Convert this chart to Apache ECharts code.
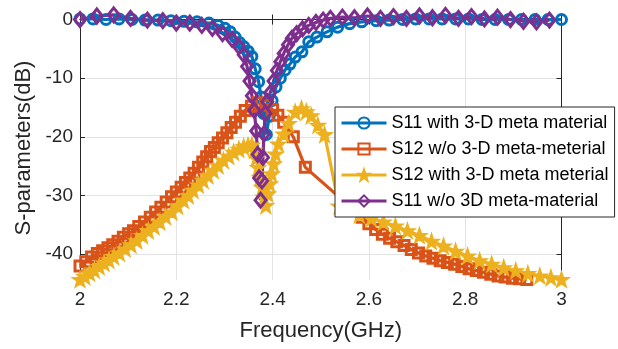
<!DOCTYPE html>
<html>
<head>
<meta charset="utf-8">
<script src="https://cdn.jsdelivr.net/npm/echarts@6/dist/echarts.min.js"></script>
<style>
  html, body { margin: 0; padding: 0; background: #fff; }
  #chart { width: 618px; height: 349px; }
</style>
</head>
<body>
<div id="chart"></div>
<script>
// tick labels
const xTicks = [2, 2.2, 2.4, 2.6, 2.8, 3];
const yTicks = [0, -10, -20, -30, -40];

// S11 with 3-D meta material (circles)
const s11WithFreq = [2.000, 2.027, 2.054, 2.081, 2.108, 2.135, 2.162, 2.189, 2.216, 2.243, 2.268, 2.287, 2.301, 2.312, 2.322, 2.331, 2.340, 2.349, 2.357, 2.364, 2.371, 2.376, 2.381, 2.387, 2.393, 2.399, 2.407, 2.416, 2.426, 2.436, 2.447, 2.461, 2.475, 2.492, 2.513, 2.535, 2.560, 2.585, 2.615, 2.642, 2.670, 2.697, 2.725, 2.752, 2.780, 2.807, 2.835, 2.862, 2.890, 2.917, 2.945, 2.972, 3.000];
const s11WithDb = [0.1, 0.1, 0.0, 0.1, 0.0, -0.1, -0.1, -0.2, -0.3, -0.4, -0.6, -1.0, -1.5, -2.1, -3.0, -3.9, -4.6, -5.4, -6.3, -8.4, -10.6, -13.2, -16.0, -19.6, -16.5, -13.8, -11.5, -10.0, -8.6, -7.6, -6.4, -5.5, -3.8, -3.0, -2.1, -1.3, -0.7, -0.4, -0.2, -0.1, 0.0, 0.1, 0.1, 0.1, 0.1, 0.1, 0.0, 0.0, 0.0, 0.0, 0.0, 0.0, 0.0];

// S12 w/o 3-D meta-meterial (squares)
const s12WoFreq = [2.000, 2.012, 2.024, 2.036, 2.047, 2.058, 2.068, 2.079, 2.090, 2.101, 2.111, 2.122, 2.134, 2.146, 2.157, 2.168, 2.179, 2.190, 2.200, 2.210, 2.219, 2.228, 2.237, 2.246, 2.255, 2.263, 2.271, 2.279, 2.287, 2.296, 2.305, 2.314, 2.323, 2.333, 2.343, 2.356, 2.370, 2.385, 2.400, 2.411, 2.423, 2.443, 2.468, 2.586, 2.600, 2.614, 2.628, 2.643, 2.658, 2.673, 2.688, 2.703, 2.718, 2.733, 2.748, 2.763, 2.778, 2.793, 2.808, 2.823, 2.838, 2.853, 2.868, 2.883, 2.898, 2.913, 2.928];
const s12WoDb = [-42.0, -41.3, -40.5, -39.9, -39.4, -38.9, -38.4, -37.8, -37.1, -36.5, -36.0, -35.3, -34.5, -33.7, -32.8, -32.0, -31.1, -30.2, -29.4, -28.6, -27.8, -27.0, -26.2, -25.2, -24.3, -23.4, -22.5, -21.8, -21.0, -20.2, -19.3, -18.4, -17.5, -16.5, -15.5, -14.8, -14.2, -14.6, -15.4, -16.3, -17.5, -20.0, -25.2, -33.7, -34.8, -35.8, -36.6, -37.3, -37.9, -38.5, -39.2, -39.8, -40.3, -40.7, -41.1, -41.4, -41.7, -42.1, -42.5, -42.8, -43.1, -43.4, -43.7, -43.9, -44.1, -44.2, -44.3];

// S12 with 3-D meta meterial (stars)
const s12WithFreq = [2.000, 2.010, 2.020, 2.030, 2.040, 2.050, 2.060, 2.070, 2.082, 2.094, 2.106, 2.118, 2.130, 2.142, 2.154, 2.166, 2.178, 2.191, 2.203, 2.215, 2.225, 2.235, 2.246, 2.256, 2.266, 2.277, 2.287, 2.298, 2.309, 2.319, 2.330, 2.340, 2.349, 2.357, 2.362, 2.366, 2.370, 2.374, 2.378, 2.382, 2.386, 2.390, 2.394, 2.398, 2.402, 2.406, 2.412, 2.423, 2.433, 2.447, 2.460, 2.470, 2.480, 2.494, 2.508, 2.538, 2.580, 2.605, 2.630, 2.655, 2.680, 2.705, 2.730, 2.755, 2.780, 2.805, 2.830, 2.855, 2.880, 2.905, 2.930, 2.955, 2.978, 3.000];
const s12WithDb = [-44.3, -43.8, -43.2, -42.7, -42.1, -41.5, -41.0, -40.4, -39.8, -39.1, -38.4, -37.7, -36.8, -36.0, -35.3, -34.5, -33.6, -32.8, -31.8, -30.8, -30.0, -29.1, -28.2, -27.4, -26.6, -25.7, -24.9, -24.0, -23.3, -22.6, -22.1, -21.7, -21.5, -21.4, -22.3, -23.6, -25.2, -26.9, -28.6, -30.3, -31.7, -29.7, -28.0, -26.3, -24.6, -22.9, -21.2, -19.5, -17.7, -15.8, -15.2, -15.7, -16.4, -18.0, -19.6, -31.8, -33.3, -33.9, -34.5, -35.2, -36.0, -36.8, -37.8, -38.6, -39.5, -40.3, -41.1, -41.7, -42.3, -42.8, -43.3, -43.7, -44.0, -44.3];

// S11 w/o 3D meta-material (diamonds)
const s11WoFreq = [2.000, 2.035, 2.070, 2.105, 2.140, 2.172, 2.200, 2.228, 2.253, 2.275, 2.296, 2.316, 2.330, 2.340, 2.347, 2.352, 2.357, 2.362, 2.366, 2.369, 2.372, 2.375, 2.378, 2.380, 2.382, 2.385, 2.389, 2.395, 2.402, 2.409, 2.416, 2.423, 2.432, 2.440, 2.450, 2.462, 2.475, 2.490, 2.505, 2.520, 2.545, 2.570, 2.597, 2.624, 2.651, 2.678, 2.705, 2.732, 2.759, 2.786, 2.813, 2.840, 2.867, 2.894, 2.921, 2.948, 2.975];
const s11WoDb = [0.0, 0.6, 0.8, 0.2, -0.1, -0.2, -0.6, -0.6, -1.0, -1.5, -2.4, -3.4, -4.6, -6.0, -8.0, -10.5, -13.0, -15.5, -19.0, -23.0, -27.0, -30.8, -27.5, -23.5, -19.5, -16.0, -14.0, -12.5, -10.5, -8.7, -7.2, -5.8, -4.3, -3.2, -2.4, -1.6, -1.0, -0.5, -0.1, 0.2, 0.4, 0.3, 0.6, 0.2, 0.5, 0.2, 0.6, 0.3, 0.7, 0.2, 0.5, 0.1, 0.4, 0.0, -0.3, -0.4, -0.1];

const names = ['S11 with 3-D meta material', 'S12 w/o 3-D meta-meterial', 'S12 with 3-D meta meterial', 'S11 w/o 3D meta-material'];
const colors = ['#0072BD', '#D95319', '#EDB120', '#7E2F8E'];

const pairs = (fs, vs) => fs.map((f, i) => [f, vs[i]]);
const star = 'path://M0,-10L2.35,-3.24L9.51,-3.09L3.8,1.24L5.88,8.09L0,4L-5.88,8.09L-3.8,1.24L-9.51,-3.09L-2.35,-3.24Z';
const font = 'Liberation Sans, Arial, Helvetica, sans-serif';
const ink = '#262626';

const mkSeries = (i, data, symbol, size, fill, bw) => ({
  name: names[i],
  type: 'line',
  data: data,
  symbol: symbol,
  symbolSize: size,
  showSymbol: true,
  showAllSymbol: true,
  clip: false,
  lineStyle: {color: colors[i], width: 3.2},
  itemStyle: {color: fill, borderColor: colors[i], borderWidth: bw},
  emphasis: {disabled: true}
});

var myChart = echarts.init(document.getElementById('chart'), null, {renderer: 'canvas'});
myChart.setOption({
  animation: false,
  textStyle: {fontFamily: font},
  grid: {left: 80, right: 56.5, top: 16, bottom: 69},
  legend: {
    left: 335, top: 107,
    orient: 'vertical',
    padding: [7, 6, 7, 5],
    itemWidth: 45, itemHeight: 14, itemGap: 8,
    backgroundColor: '#fff',
    borderColor: ink, borderWidth: 1,
    lineStyle: {width: 3},
    itemStyle: {borderWidth: 2},
    textStyle: {fontSize: 18, color: '#000', fontFamily: font},
    data: names
  },
  xAxis: [{
    type: 'value', min: 2, max: 3, interval: 0.2,
    name: 'Frequency(GHz)', nameLocation: 'middle', nameGap: 40,
    nameTextStyle: {fontSize: 22, color: ink, fontFamily: font},
    axisLine: {lineStyle: {color: ink, width: 1}},
    axisTick: {inside: true, length: 5, lineStyle: {color: ink}},
    axisLabel: {fontSize: 19, color: ink, margin: 10, fontFamily: font},
    splitLine: {show: true, lineStyle: {color: '#e3e3e3', width: 1}}
  }, {
    type: 'value', min: 2, max: 3, interval: 0.2, position: 'top',
    axisLine: {show: true, lineStyle: {color: ink, width: 1}},
    axisTick: {inside: true, length: 5, lineStyle: {color: ink}},
    axisLabel: {show: false},
    splitLine: {show: false}
  }],
  yAxis: [{
    type: 'value', min: -44.4, max: 0.6,
    name: 'S-parameters(dB)', nameLocation: 'middle', nameGap: 42,
    nameTextStyle: {fontSize: 22, color: ink, fontFamily: font},
    axisLine: {show: true, lineStyle: {color: ink, width: 1}},
    axisTick: {show: true, inside: true, length: 5, customValues: yTicks, lineStyle: {color: ink}},
    axisLabel: {fontSize: 19, color: ink, margin: 7, customValues: yTicks, fontFamily: font},
    splitLine: {show: true, lineStyle: {color: '#e3e3e3', width: 1}}
  }, {
    type: 'value', min: -44.4, max: 0.6, position: 'right',
    axisLine: {show: true, lineStyle: {color: ink, width: 1}},
    axisTick: {show: true, inside: true, length: 5, customValues: yTicks, lineStyle: {color: ink}},
    axisLabel: {show: false},
    splitLine: {show: false}
  }],
  series: [
    mkSeries(0, pairs(s11WithFreq, s11WithDb), 'circle', 10, 'rgba(255,255,255,0)', 3),
    mkSeries(1, pairs(s12WoFreq, s12WoDb), 'rect', 10, 'rgba(255,255,255,0)', 3),
    mkSeries(2, pairs(s12WithFreq, s12WithDb), star, 15, colors[2], 1.5),
    mkSeries(3, pairs(s11WoFreq, s11WoDb), 'diamond', [11, 14], 'rgba(255,255,255,0)', 3)
  ]
});
</script>
</body>
</html>
